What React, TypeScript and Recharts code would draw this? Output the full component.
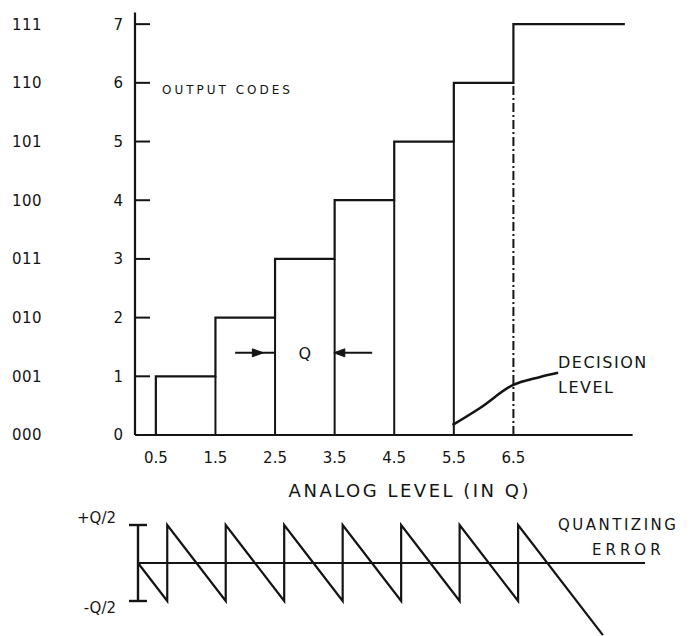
import React from 'react';
import { ComposedChart, Line, XAxis, YAxis, ReferenceLine, ReferenceDot, Label } from 'recharts';

// ---- data ----
const decisionLevels = [0.5, 1.5, 2.5, 3.5, 4.5, 5.5, 6.5];
const outputCodes = [1, 2, 3, 4, 5, 6, 7];
const codeTicks = [0, 1, 2, 3, 4, 5, 6, 7];
const binaryCodes = ['000', '001', '010', '011', '100', '101', '110', '111'];
const xTickLabels = ['0.5', '1.5', '2.5', '3.5', '4.5', '5.5', '6.5'];
const fullScaleEnd = 8.37;
const leaderX = [5.48, 5.94, 6.49, 6.95, 7.25];
const leaderY = [0.17, 0.46, 0.85, 0.99, 1.06];
const qArrowLevel = 1.4;
const qArrowLeftX = [1.83, 2.22, 2.5];
const qArrowRightX = [3.57, 4.13];
const qLabelX = 3.0;
const errorX = [0, 0.5, 0.5, 1.5, 1.5, 2.5, 2.5, 3.5, 3.5, 4.5, 4.5, 5.5, 5.5, 6.5, 6.5, 7.95];
const errorY = [0, -0.5, 0.5, -0.5, 0.5, -0.5, 0.5, -0.5, 0.5, -0.5, 0.5, -0.5, 0.5, -0.5, 0.5, -0.95];
const errorTicks = [0.5, -0.5];
const errorTickLabels = ['+Q/2', '-Q/2'];
const errorBar = [0.5, -0.5];

// ---- series built from the arrays ----
const stairData: any[] = [{ x: decisionLevels[0], y: 0 }];
decisionLevels.forEach((d, i) => {
  stairData.push({ x: d, y: outputCodes[i] });
  const next = i + 1 < decisionLevels.length ? decisionLevels[i + 1] : fullScaleEnd;
  stairData.push({ x: next, y: outputCodes[i] });
});

const edgeData: any[] = [];
decisionLevels.slice(1, 6).forEach((d, i) => {
  edgeData.push({ x: d, y: 0 });
  edgeData.push({ x: d, y: outputCodes[i] });
  edgeData.push({ x: d, y: null });
});
const lastIdx = decisionLevels.length - 1;
const dashedEdge = [
  { x: decisionLevels[lastIdx], y: 0 },
  { x: decisionLevels[lastIdx], y: outputCodes[lastIdx - 1] },
];

const leaderData = leaderX.map((x, i) => ({ x, y: leaderY[i] }));
const arrowLeftData = qArrowLeftX.map((x, i) => ({ x, y: qArrowLevel, head: i === 1 ? 'right' : '' }));
const arrowRightData = qArrowRightX.map((x, i) => ({ x, y: qArrowLevel, head: i === 0 ? 'left' : '' }));

const errorData = errorX.map((x, i) => ({ x, y: errorY[i] }));
const errorBarData = errorBar.map((y) => ({ x: 0, y }));

const INK = '#141414';
const FONT = "'DejaVu Sans', sans-serif";

const CodeTick = (props: any) => {
  const { x, y, payload } = props;
  const i = codeTicks.indexOf(payload.value);
  return (
    <g>
      <text x={x - 27} y={y} dy="0.36em" textAnchor="end" fontSize={15} fill={INK} fontFamily={FONT}>
        {payload.value}
      </text>
      <text x={x - 138} y={y} dy="0.36em" textAnchor="start" fontSize={15} fill={INK} fontFamily={FONT} letterSpacing={0.5}>
        {binaryCodes[i]}
      </text>
    </g>
  );
};

const ErrTick = (props: any) => {
  const { x, y, payload } = props;
  const i = errorTicks.indexOf(payload.value);
  const off = payload.value > 0 ? -7 : 7;
  return (
    <text x={x - 14} y={y + off} dy="0.36em" textAnchor="end" fontSize={15} fill={INK} fontFamily={FONT}>
      {errorTickLabels[i]}
    </text>
  );
};

const ArrowDot = (props: any) => {
  const { cx, cy, payload, index } = props;
  if (!payload || !payload.head) return <g key={index} />;
  const s = payload.head === 'right' ? 1 : -1;
  return (
    <path
      key={index}
      d={`M${cx + s * 5},${cy} L${cx - s * 6},${cy - 4} L${cx - s * 6},${cy + 4} Z`}
      fill={INK}
      stroke={INK}
      strokeWidth={1}
    />
  );
};

const SerifDot = (props: any) => {
  const { cx, cy, index } = props;
  return <line key={index} x1={cx - 9} x2={cx + 9} y1={cy} y2={cy} stroke={INK} strokeWidth={2.4} />;
};

export default function App() {
  return (
    <div style={{ position: 'absolute', left: 0, top: 0, width: 691, height: 636, background: '#fff', overflow: 'hidden' }}>
      <div style={{ position: 'absolute', left: 0, top: 0 }}>
        <ComposedChart width={691} height={505} margin={{ top: 12.4, right: 58.4, bottom: 8, left: 10 }}>
          <XAxis
            dataKey="x"
            type="number"
            domain={[0.15, 8.5]}
            ticks={decisionLevels}
            tickFormatter={(v: number) => xTickLabels[decisionLevels.indexOf(v)]}
            tickLine={false}
            tickMargin={11}
            height={62}
            axisLine={{ stroke: INK, strokeWidth: 2.2 }}
            tick={{ fill: INK, fontSize: 15, fontFamily: FONT }}
            allowDuplicatedCategory={false}
          >
            <Label
              value="ANALOG LEVEL (IN Q)"
              position="insideBottom"
              offset={0}
              dx={26}
              style={{ fill: INK, fontSize: 18, fontFamily: FONT, letterSpacing: 2.5 }}
            />
          </XAxis>
          <YAxis
            type="number"
            domain={[0, 7.2]}
            ticks={codeTicks}
            width={125}
            tickSize={-15}
            tickMargin={0}
            axisLine={{ stroke: INK, strokeWidth: 2.2 }}
            tickLine={{ stroke: INK, strokeWidth: 2 }}
            tick={<CodeTick />}
          />
          <Line data={edgeData} dataKey="y" stroke={INK} strokeWidth={2} dot={false} isAnimationActive={false} connectNulls={false} />
          <Line data={dashedEdge} dataKey="y" stroke={INK} strokeWidth={2} strokeDasharray="9 3 2 3" dot={false} isAnimationActive={false} />
          <Line data={stairData} dataKey="y" stroke={INK} strokeWidth={2.2} dot={false} isAnimationActive={false} />
          <Line data={leaderData} dataKey="y" type="monotone" stroke={INK} strokeWidth={2.6} dot={false} isAnimationActive={false} />
          <Line data={arrowLeftData} dataKey="y" stroke={INK} strokeWidth={2} dot={<ArrowDot />} isAnimationActive={false} />
          <Line data={arrowRightData} dataKey="y" stroke={INK} strokeWidth={2} dot={<ArrowDot />} isAnimationActive={false} />
          <ReferenceDot
            x={qLabelX}
            y={qArrowLevel}
            r={0}
            shape={(p: any) => (
              <text x={p.cx} y={p.cy} dy="0.36em" textAnchor="middle" fontSize={16} fill={INK} fontFamily={FONT}>
                Q
              </text>
            )}
          />
        </ComposedChart>
      </div>
      <div style={{ position: 'absolute', left: 0, top: 500 }}>
        <ComposedChart width={691} height={136} margin={{ top: 17.4, right: 46, bottom: 0.8, left: 78 }}>
          <XAxis dataKey="x" type="number" domain={[0, 8.67]} hide />
          <YAxis
            type="number"
            domain={[-0.95, 0.6]}
            ticks={errorTicks}
            width={60}
            axisLine={false}
            tickLine={false}
            tick={<ErrTick />}
          />
          <ReferenceLine y={0} stroke={INK} strokeWidth={2} />
          <Line data={errorBarData} dataKey="y" stroke={INK} strokeWidth={2.4} dot={<SerifDot />} isAnimationActive={false} />
          <Line data={errorData} dataKey="y" stroke={INK} strokeWidth={2.2} dot={false} isAnimationActive={false} />
        </ComposedChart>
      </div>
      <svg width={691} height={636} style={{ position: 'absolute', left: 0, top: 0, pointerEvents: 'none' }}>
        <g fill={INK} fontFamily={FONT}>
          <text x={162} y={90} dy="0.36em" fontSize={12} letterSpacing={3}>OUTPUT CODES</text>
          <text x={558} y={362} dy="0.36em" fontSize={16} letterSpacing={1.5}>DECISION</text>
          <text x={558} y={387} dy="0.36em" fontSize={16} letterSpacing={1.5}>LEVEL</text>
          <text x={558} y={525} dy="0.36em" fontSize={15} letterSpacing={2.5}>QUANTIZING</text>
          <text x={592} y={550} dy="0.36em" fontSize={15} letterSpacing={4}>ERROR</text>
        </g>
      </svg>
    </div>
  );
}
